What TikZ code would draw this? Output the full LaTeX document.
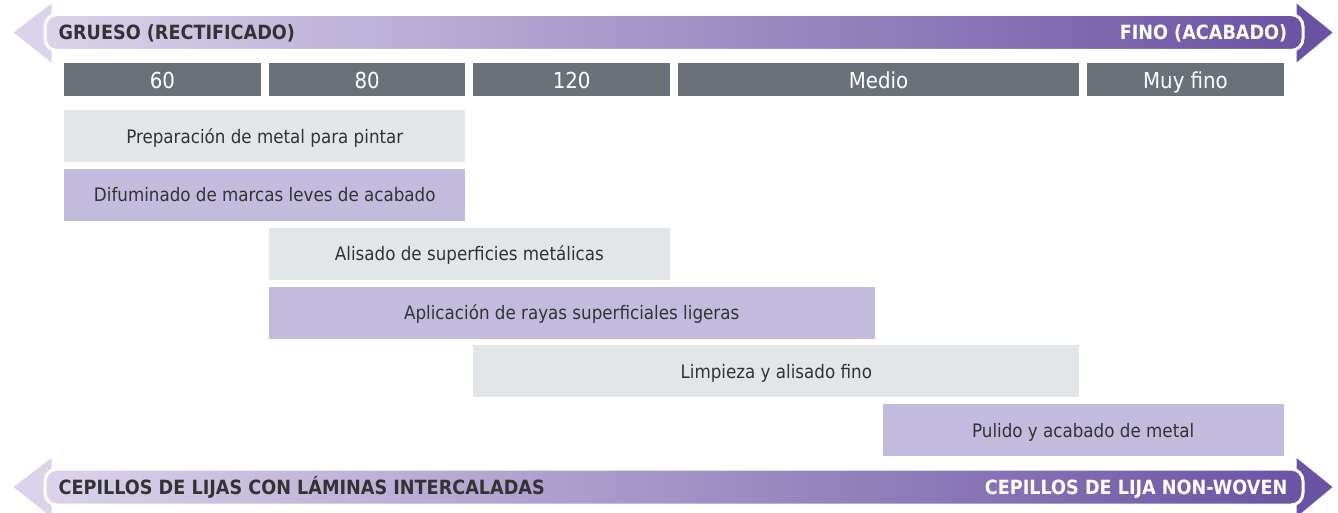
\documentclass[tikz,border=0pt]{standalone}
\usepackage{fontspec}
\setmainfont{DejaVu Sans Condensed}
\usepackage{xcolor}
\definecolor{LIGHTCOLOR}{HTML}{DAD3EA}
\definecolor{DARKCOLOR}{HTML}{6B53A3}
\definecolor{GRADECOLOR}{HTML}{6B7179}
\definecolor{GREYCOLOR}{HTML}{E3E6E8}
\definecolor{LILACCOLOR}{HTML}{C3BBDD}
\definecolor{TEXTCOLOR}{HTML}{333333}
\usepackage{tikz}
\usetikzlibrary{shapes,positioning,calc,backgrounds}
\tikzset{
  basic-style/.style = {
    rectangle, fill=#1, anchor=north west,
    inner sep=0pt,
    text=TEXTCOLOR,
    text height=14pt, text depth=0pt,
    font=\fontsize{18.6}{18.6}\selectfont
  },
  grey-style/.style = {
    basic-style=GREYCOLOR,
    minimum height=52pt
  },
  lilac-style/.style = {
    basic-style=LILACCOLOR,
    minimum height=52pt
  },
  grade-style/.style = {
    basic-style=GRADECOLOR,
    minimum height=33pt,
    text=white,
    text height=17.6pt, text depth=0pt,
    font=\fontsize{22}{22}\selectfont
  },
  band-style/.style = {
    rectangle, rounded corners=12pt,
    left color=LIGHTCOLOR, right color=DARKCOLOR,
    draw=white, line width=3pt,
    minimum width=1258pt, minimum height=36pt,
    inner sep=0pt
  },
  band-text-style/.style = {
    inner sep=0pt,
    text height=14pt, text depth=0pt,
    font=\fontsize{19.6}{19.6}\selectfont\bfseries
  },
  tip-style/.style = {
    fill=#1
  }
}
\def\createGrade name:#1 cols:#2-#3 display:#4;{
  \pgfmathsetmacro\gradeLeft{64+204.6*#2}
  \pgfmathsetmacro\gradeWidth{204.6*(#3-#2)+196.6}
  \node [grade-style, minimum width=\gradeWidth pt] (#1) at (\gradeLeft,63) {#4};
}
\def\createTask name:#1 style:#2 cols:#3-#4 row:#5 display:#6;{
  \pgfmathsetmacro\taskLeft{64+204.6*#3}
  \pgfmathsetmacro\taskWidth{204.6*(#4-#3)+196.6}
  \pgfmathsetmacro\taskTop{110+58.8*#5}
  \node [#2-style, minimum width=\taskWidth pt] (#1) at (\taskLeft,\taskTop) {#6};
}
\newcommand\createTips[1]{
  \begin{pgfonlayer}{background}
    \fill[tip-style=LIGHTCOLOR] ([xshift=8pt,yshift=29pt]#1.west) -- ([xshift=-30pt]#1.west)
      -- ([xshift=8pt,yshift=-30pt]#1.west) -- cycle;
    \fill[tip-style=DARKCOLOR] ([xshift=-8pt,yshift=29pt]#1.east) -- ([xshift=28pt]#1.east)
      -- ([xshift=-8pt,yshift=-30pt]#1.east) -- cycle;
  \end{pgfonlayer}
}

\begin{document}
\begin{tikzpicture}[x=1pt, y=-1pt]
  \useasboundingbox (0,0) rectangle (1338,513);

  % top band
  \node [band-style] (coarse) at (674,32.5) {};
  \createTips{coarse}
  \node [band-text-style, anchor=west, text=TEXTCOLOR] (coarse-label)
        at ([xshift=15pt]coarse.west) {GRUESO (RECTIFICADO)};
  \node [band-text-style, anchor=east, text=white] (fine-label)
        at ([xshift=-17pt]coarse.east) {FINO (ACABADO)};

  % grades
  \createGrade name:g60 cols:0-0 display:60;
  \createGrade name:g80 cols:1-1 display:80;
  \createGrade name:g120 cols:2-2 display:120;
  \createGrade name:medio cols:3-4 display:Medio;
  \createGrade name:muyfino cols:5-5 display:Muy fino;

  % tasks
  \createTask name:prep style:grey cols:0-1 row:0 display:Preparación de metal para pintar;
  \createTask name:difum style:lilac cols:0-1 row:1 display:Difuminado de marcas leves de acabado;
  \createTask name:alis style:grey cols:1-2 row:2 display:Alisado de superficies metálicas;
  \createTask name:rayas style:lilac cols:1-3 row:3 display:Aplicación de rayas superficiales ligeras;
  \createTask name:limp style:grey cols:2-4 row:4 display:Limpieza y alisado fino;
  \createTask name:pulido style:lilac cols:4-5 row:5 display:Pulido y acabado de metal;

  % bottom band
  \node [band-style] (brushes) at (674,487) {};
  \createTips{brushes}
  \node [band-text-style, anchor=west, text=TEXTCOLOR] (lam-label)
        at ([xshift=15pt]brushes.west) {CEPILLOS DE LIJAS CON LÁMINAS INTERCALADAS};
  \node [band-text-style, anchor=east, text=white] (nonwoven-label)
        at ([xshift=-17pt]brushes.east) {CEPILLOS DE LIJA NON-WOVEN};
\end{tikzpicture}
\end{document}
